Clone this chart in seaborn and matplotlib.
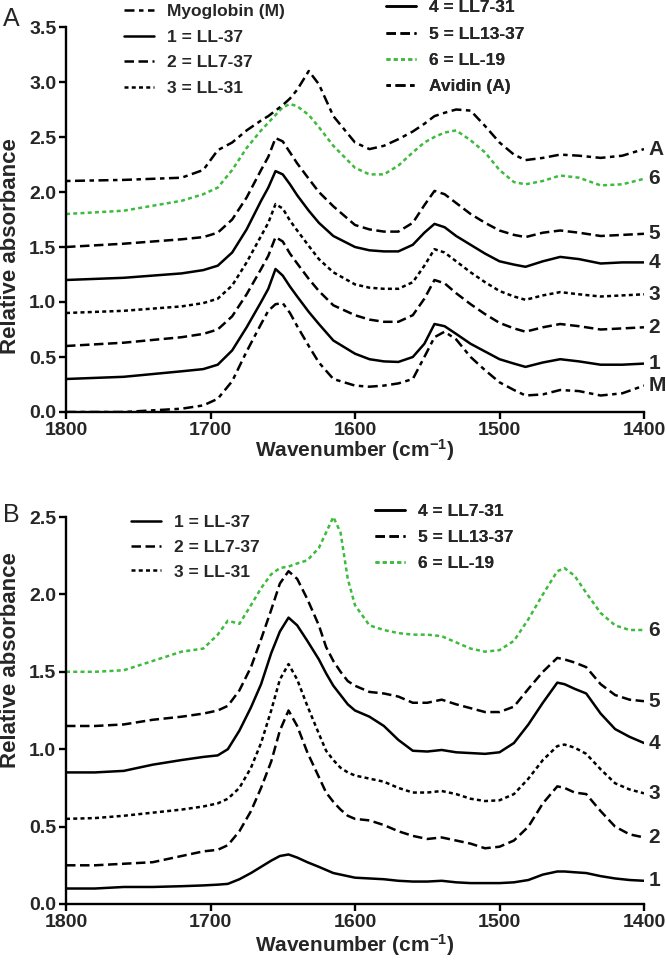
import matplotlib
matplotlib.use("Agg")
import matplotlib.pyplot as plt
from matplotlib import font_manager as fm
import seaborn as sns
import pandas as pd

sns.set_style("ticks")
plt.rcParams["font.family"] = ["Liberation Sans", "DejaVu Sans"]
plt.rcParams["mathtext.fontset"] = "custom"
plt.rcParams["mathtext.rm"] = "Liberation Sans:bold"
plt.rcParams["mathtext.bf"] = "Liberation Sans:bold"
plt.rcParams["mathtext.default"] = "bf"


def has_font(name):
    try:
        fm.findfont(fm.FontProperties(family=name), fallback_to_default=False)
        return True
    except Exception:
        return False


NARROW = has_font("Liberation Sans Narrow")
TICK_FAMILY = "Liberation Sans Narrow" if NARROW else "Liberation Sans"
TICK_SIZE = 16 if NARROW else 14

# ---------------- Panel A data ----------------
wn_a = [1800, 1760, 1720, 1705, 1695, 1685, 1675, 1665, 1660, 1655, 1650, 1645, 1640,
        1632, 1625, 1615, 1600, 1590, 1580, 1570, 1560,
        1552, 1545, 1538, 1530, 1520, 1510, 1500, 1490, 1482,
        1470, 1458, 1445, 1430, 1415, 1400]

a_myoglobin = [0.0, 0.0, 0.03, 0.06, 0.12, 0.28, 0.55, 0.80, 0.92, 0.98, 0.99, 0.90, 0.78,
               0.60, 0.45, 0.30, 0.24, 0.23, 0.24, 0.26, 0.30,
               0.50, 0.68, 0.73, 0.66, 0.50, 0.38, 0.27, 0.20, 0.15,
               0.16, 0.20, 0.19, 0.15, 0.17, 0.24]
a_ll37 = [0.30, 0.32, 0.37, 0.39, 0.43, 0.56, 0.77, 1.00, 1.12, 1.30, 1.24, 1.14, 1.05,
          0.91, 0.80, 0.65, 0.53, 0.48, 0.46, 0.455, 0.50,
          0.62, 0.80, 0.78, 0.71, 0.62, 0.55, 0.48, 0.44, 0.41,
          0.45, 0.48, 0.46, 0.43, 0.43, 0.44]
a_ll7_37 = [0.60, 0.63, 0.68, 0.71, 0.75, 0.87, 1.07, 1.30, 1.42, 1.59, 1.55, 1.44, 1.35,
            1.21, 1.10, 0.97, 0.88, 0.84, 0.82, 0.82, 0.88,
            1.03, 1.20, 1.17, 1.08, 0.98, 0.89, 0.81, 0.76, 0.73,
            0.77, 0.80, 0.78, 0.75, 0.76, 0.77]
a_ll31 = [0.90, 0.92, 0.96, 0.99, 1.03, 1.15, 1.36, 1.60, 1.72, 1.89, 1.85, 1.74, 1.65,
          1.51, 1.39, 1.27, 1.16, 1.13, 1.12, 1.12, 1.18,
          1.33, 1.48, 1.45, 1.37, 1.27, 1.18, 1.10, 1.05, 1.02,
          1.06, 1.09, 1.07, 1.05, 1.06, 1.07]
a_ll7_31 = [1.20, 1.22, 1.26, 1.29, 1.33, 1.45, 1.66, 1.92, 2.04, 2.19, 2.16, 2.07, 1.97,
            1.83, 1.72, 1.60, 1.50, 1.47, 1.46, 1.46, 1.52,
            1.63, 1.71, 1.68, 1.60, 1.52, 1.44, 1.37, 1.34, 1.32,
            1.37, 1.41, 1.39, 1.35, 1.36, 1.36]
a_ll13_37 = [1.50, 1.53, 1.57, 1.59, 1.63, 1.75, 1.95, 2.20, 2.32, 2.49, 2.46, 2.36, 2.26,
             2.12, 2.00, 1.87, 1.70, 1.66, 1.64, 1.64, 1.72,
             1.88, 2.01, 1.98, 1.90, 1.80, 1.72, 1.65, 1.61, 1.59,
             1.63, 1.65, 1.63, 1.60, 1.61, 1.62]
a_ll19 = [1.80, 1.83, 1.92, 1.98, 2.04, 2.20, 2.40, 2.56, 2.63, 2.70, 2.77, 2.80, 2.78,
          2.70, 2.59, 2.42, 2.22, 2.16, 2.16, 2.24, 2.36,
          2.45, 2.50, 2.54, 2.56, 2.47, 2.36, 2.20, 2.09, 2.07,
          2.10, 2.15, 2.13, 2.06, 2.07, 2.12]
a_avidin = [2.10, 2.11, 2.13, 2.20, 2.38, 2.45, 2.56, 2.65, 2.69, 2.74, 2.79, 2.85, 2.93,
            3.10, 2.98, 2.69, 2.45, 2.39, 2.42, 2.48, 2.55,
            2.62, 2.69, 2.72, 2.75, 2.74, 2.60, 2.45, 2.34, 2.29,
            2.31, 2.34, 2.33, 2.31, 2.33, 2.39]

# ---------------- Panel B data ----------------
wn_b = [1800, 1780, 1760, 1740, 1720, 1705, 1695, 1688, 1680, 1672, 1665, 1658, 1652, 1646, 1640,
        1633, 1625, 1620, 1615, 1610, 1605, 1600,
        1590, 1580, 1570, 1560, 1550, 1540, 1530, 1520, 1510, 1500,
        1490, 1480, 1470, 1460, 1455, 1448, 1440, 1430, 1420, 1410, 1400]

b_ll37 = [0.10, 0.10, 0.11, 0.11, 0.115, 0.12, 0.125, 0.13, 0.16, 0.20, 0.24, 0.28, 0.31, 0.32, 0.30,
          0.27, 0.24, 0.22, 0.20, 0.19, 0.18, 0.17,
          0.165, 0.16, 0.15, 0.145, 0.145, 0.15, 0.14, 0.135, 0.135, 0.135,
          0.14, 0.155, 0.19, 0.21, 0.21, 0.205, 0.20, 0.18, 0.165, 0.155, 0.15]
b_ll7_37 = [0.25, 0.25, 0.26, 0.27, 0.31, 0.34, 0.35, 0.38, 0.47, 0.60, 0.75, 0.92, 1.12, 1.25, 1.15,
            0.98, 0.82, 0.72, 0.66, 0.61, 0.57, 0.55,
            0.54, 0.51, 0.47, 0.44, 0.42, 0.43, 0.41, 0.39, 0.36, 0.37,
            0.41, 0.50, 0.65, 0.76, 0.75, 0.72, 0.71, 0.60, 0.50, 0.45, 0.43]
b_ll31 = [0.55, 0.555, 0.57, 0.59, 0.61, 0.63, 0.65, 0.68, 0.75, 0.88, 1.04, 1.25, 1.45, 1.55, 1.45,
          1.28, 1.10, 0.99, 0.93, 0.88, 0.85, 0.83,
          0.81, 0.79, 0.75, 0.72, 0.72, 0.73, 0.71, 0.68, 0.665, 0.67,
          0.71, 0.81, 0.93, 1.02, 1.03, 1.01, 0.97, 0.87, 0.78, 0.74, 0.715]
b_ll7_31 = [0.85, 0.85, 0.86, 0.90, 0.93, 0.95, 0.96, 1.00, 1.12, 1.27, 1.42, 1.62, 1.76, 1.85, 1.80,
            1.70, 1.58, 1.49, 1.41, 1.35, 1.29, 1.25,
            1.21, 1.15, 1.06, 0.99, 0.985, 0.995, 0.98, 0.975, 0.97, 0.98,
            1.04, 1.16, 1.30, 1.43, 1.42, 1.39, 1.36, 1.23, 1.13, 1.08, 1.04]
b_ll13_37 = [1.15, 1.15, 1.16, 1.19, 1.21, 1.23, 1.25, 1.28, 1.38, 1.53, 1.71, 1.90, 2.07, 2.15, 2.10,
             1.97, 1.80, 1.66, 1.57, 1.50, 1.44, 1.41,
             1.37, 1.36, 1.34, 1.30, 1.30, 1.32, 1.29, 1.265, 1.24, 1.24,
             1.275, 1.39, 1.50, 1.59, 1.58, 1.56, 1.53, 1.42, 1.35, 1.32, 1.31]
b_ll19 = [1.50, 1.50, 1.51, 1.57, 1.63, 1.65, 1.74, 1.83, 1.81, 1.93, 2.04, 2.13, 2.17, 2.18, 2.20,
          2.22, 2.30, 2.40, 2.50, 2.40, 2.10, 1.93,
          1.80, 1.77, 1.75, 1.74, 1.74, 1.73, 1.69, 1.65, 1.63, 1.64,
          1.70, 1.84, 2.00, 2.15, 2.17, 2.12, 2.01, 1.88, 1.80, 1.77, 1.77]

GREEN = "#3dbb3d"
LW = 1.8
S_SOLID = "-"
S_LONG = (0, (3.8, 1.8))
S_SHORT = (0, (1.6, 1.3))
S_MYO = (0, (4.0, 1.8, 1.8, 1.8))
S_AVI = (0, (1.8, 1.8, 4.0, 1.8))

series_a = [
    ("Myoglobin (M)", "M", a_myoglobin, "black", S_MYO),
    ("1 = LL-37", "1", a_ll37, "black", S_SOLID),
    ("2 = LL7-37", "2", a_ll7_37, "black", S_LONG),
    ("3 = LL-31", "3", a_ll31, "black", S_SHORT),
    ("4 = LL7-31", "4", a_ll7_31, "black", S_SOLID),
    ("5 = LL13-37", "5", a_ll13_37, "black", S_LONG),
    ("6 = LL-19", "6", a_ll19, GREEN, S_SHORT),
    ("Avidin (A)", "A", a_avidin, "black", S_AVI),
]
series_b = [
    ("1 = LL-37", "1", b_ll37, "black", S_SOLID),
    ("2 = LL7-37", "2", b_ll7_37, "black", S_LONG),
    ("3 = LL-31", "3", b_ll31, "black", S_SHORT),
    ("4 = LL7-31", "4", b_ll7_31, "black", S_SOLID),
    ("5 = LL13-37", "5", b_ll13_37, "black", S_LONG),
    ("6 = LL-19", "6", b_ll19, GREEN, S_SHORT),
]

W, H = 666, 965
fig = plt.figure(figsize=(W / 100, H / 100), dpi=100)
ax_a = fig.add_axes([66 / W, 1 - 412 / H, 578 / W, 385 / H])
ax_b = fig.add_axes([66 / W, 1 - 904 / H, 578 / W, 387 / H])


def draw_panel(ax, wn, series, ymax, yticks, xpad):
    handles = {}
    for label, short, vals, color, ls in series:
        df = pd.DataFrame({"wn": wn, "val": vals})
        sns.lineplot(data=df, x="wn", y="val", ax=ax, color=color, linestyle=ls,
                     linewidth=LW, estimator=None, sort=False, label=label, legend=False)
        line = ax.get_lines()[-1]
        line.set_dash_capstyle("butt")
        handles[label] = line
        ax.text(1397, vals[-1], short, fontsize=15, fontweight="bold",
                ha="left", va="center", clip_on=False,
                family=TICK_FAMILY)
    ax.set_xlim(1800, 1400)
    ax.set_ylim(0, ymax)
    ax.set_xticks([1800, 1700, 1600, 1500, 1400])
    ax.set_yticks(yticks)
    ax.set_yticklabels([f"{t:.1f}" for t in yticks])
    for side in ("top", "right"):
        ax.spines[side].set_visible(False)
    for side in ("left", "bottom"):
        ax.spines[side].set_linewidth(1.7)
        ax.spines[side].set_color("black")
    ax.tick_params(axis="both", direction="out", length=5, width=1.7, color="black",
                   labelsize=TICK_SIZE, pad=2)
    for t in ax.get_xticklabels() + ax.get_yticklabels():
        t.set_fontweight("bold")
        t.set_family(TICK_FAMILY)
    ax.set_xlabel(r"Wavenumber (cm$^{-1}$)", fontsize=15, fontweight="bold", labelpad=xpad)
    ax.set_ylabel("Relative absorbance", fontsize=16, fontweight="bold")
    ax.patch.set_visible(False)
    return handles


ha = draw_panel(ax_a, wn_a, series_a, 3.5, [0.0, 0.5, 1.0, 1.5, 2.0, 2.5, 3.0, 3.5], -1)
hb = draw_panel(ax_b, wn_b, series_b, 2.5, [0.0, 0.5, 1.0, 1.5, 2.0, 2.5], 1)

ax_a.yaxis.set_label_coords(-0.078, 0.43)
ax_b.yaxis.set_label_coords(-0.078, 0.63)

leg_prop = {"weight": "bold", "size": 12.5, "family": "Liberation Sans"}


def add_legend(ax, labels, handles, x, y, spacing):
    leg = ax.legend([handles[l] for l in labels], labels, loc="upper left",
                    bbox_to_anchor=(x / W, 1 - y / H), bbox_transform=fig.transFigure,
                    frameon=False, prop=leg_prop, handlelength=1.7, handletextpad=0.8,
                    labelspacing=spacing, borderpad=0, borderaxespad=0)
    ax.add_artist(leg)
    return leg


add_legend(ax_a, ["Myoglobin (M)", "1 = LL-37", "2 = LL7-37", "3 = LL-31"], ha, 124, 4, 0.6)
add_legend(ax_a, ["4 = LL7-31", "5 = LL13-37", "6 = LL-19", "Avidin (A)"], ha, 386, 0, 0.65)
add_legend(ax_b, ["1 = LL-37", "2 = LL7-37", "3 = LL-31"], hb, 131, 515, 0.55)
add_legend(ax_b, ["4 = LL7-31", "5 = LL13-37", "6 = LL-19"], hb, 375, 504, 0.62)

fig.text(3 / W, 1 - 19 / H, "A", fontsize=18, va="center", ha="left")
fig.text(3 / W, 1 - 515 / H, "B", fontsize=18, va="center", ha="left")

fig.savefig("out.png", dpi=100)
